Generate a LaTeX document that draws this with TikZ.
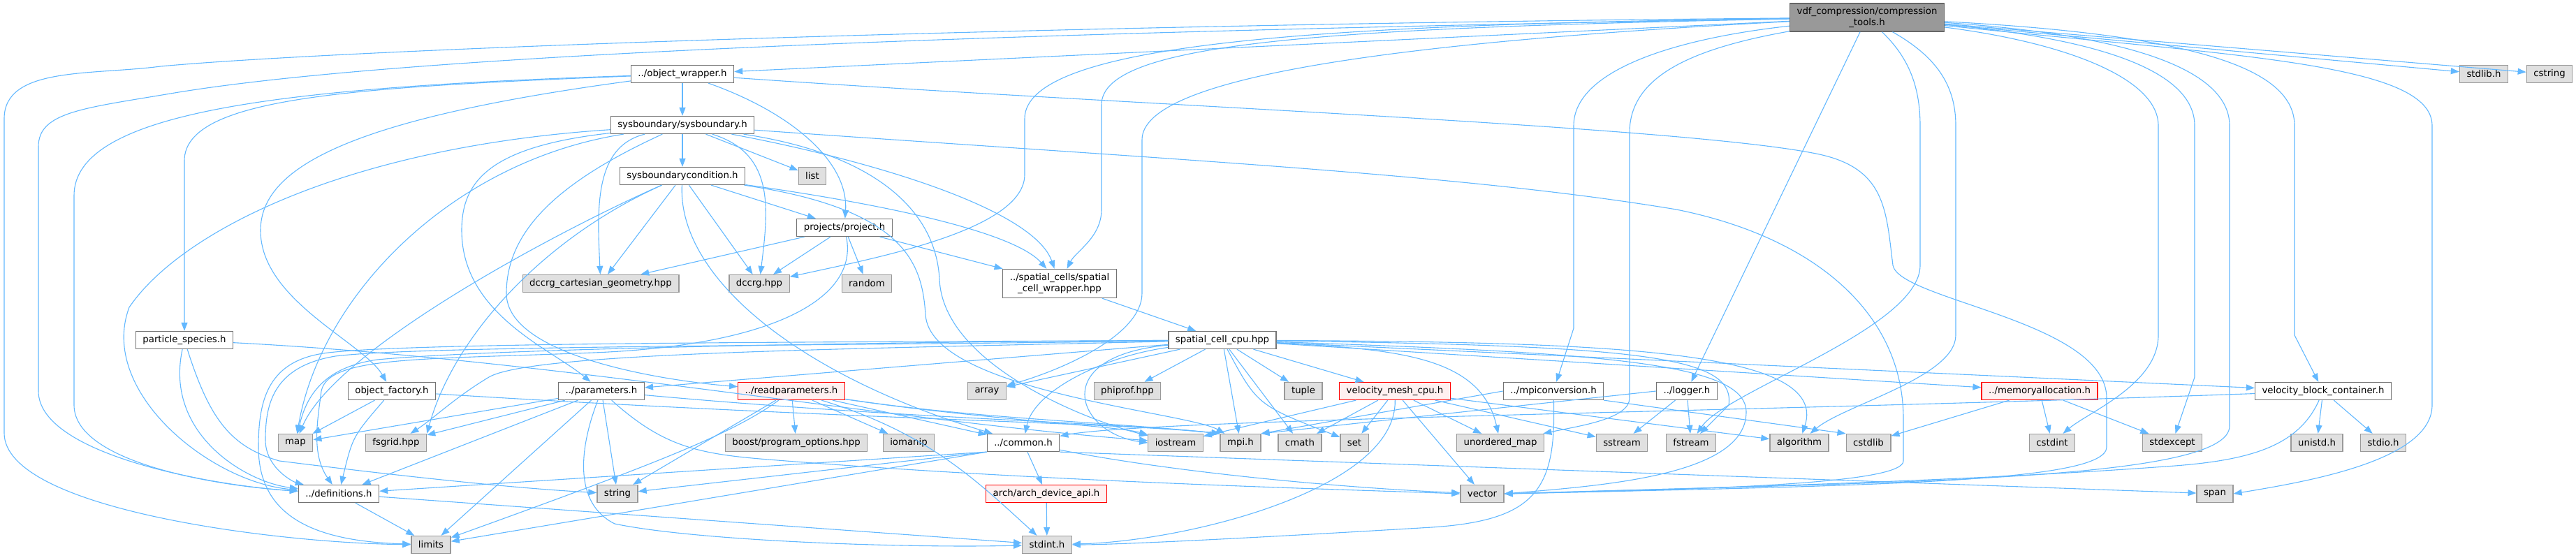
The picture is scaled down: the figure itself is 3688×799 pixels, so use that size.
\documentclass[tikz,border=0pt]{standalone}
\usepackage{fontspec}
\setmainfont{DejaVu Sans}
\usetikzlibrary{arrows.meta}
\definecolor{edgeblue}{HTML}{63B8FF}

\begin{document}
\begin{tikzpicture}[x=1pt,y=-1pt,
    file/.style={draw=black!55, fill=white, line width=1.3pt, minimum height=25pt,
      inner xsep=10pt, inner ysep=2pt, font=\fontsize{13.3}{15.5}\selectfont},
    sys/.style={file, draw=black!40, fill=black!12},
    bad/.style={file, draw=red, fill=red!6},
    top/.style={file, draw=black!60, fill=black!40, align=center, minimum height=40pt},
    inc/.style={draw=edgeblue, line width=1.1pt, -{Triangle[length=12pt,width=9pt]}}]
  \useasboundingbox (0,0) rectangle (3688,799);

  % headers of the project
  \node[top] (main) at (2673,25) {vdf\_compression/compression\\\_tools.h};
  \node[file] (ow) at (977,106) {../object\_wrapper.h};
  \node[file] (sb) at (977,179) {sysboundary/sysboundary.h};
  \node[file] (sbc) at (977,252) {sysboundarycondition.h};
  \node[file] (proj) at (1209,326) {projects/project.h};
  \node[file, align=center, minimum height=41pt] (scw) at (1517,406) {../spatial\_cells/spatial\\\_cell\_wrapper.hpp};
  \node[file] (species) at (264,487) {particle\_species.h};
  \node[file] (scc) at (1750,487) {spatial\_cell\_cpu.hpp};
  \node[file] (ofac) at (561,560) {object\_factory.h};
  \node[file] (par) at (861,560) {../parameters.h};
  \node[bad] (rpar) at (1133,560) {../readparameters.h};
  \node[bad] (vmesh) at (1997,560) {velocity\_mesh\_cpu.h};
  \node[file] (mpic) at (2224,560) {../mpiconversion.h};
  \node[file] (logger) at (2415,560) {../logger.h};
  \node[bad] (memalloc) at (2920,560) {../memoryallocation.h};
  \node[file] (vbc) at (3326,560) {velocity\_block\_container.h};
  \node[file] (common) at (1465,634) {../common.h};
  \node[file] (defs) at (485,707) {../definitions.h};
  \node[bad] (arch) at (1498,707) {arch/arch\_device\_api.h};

  % system and library headers
  \node[sys] (stdlib) at (3556,106) {stdlib.h};
  \node[sys] (cstring) at (3650,106) {cstring};
  \node[sys] (list) at (1163,252) {list};
  \node[sys] (dcg) at (860,406) {dccrg\_cartesian\_geometry.hpp};
  \node[sys] (dccrg) at (1087,406) {dccrg.hpp};
  \node[sys] (rand) at (1241,406) {random};
  \node[sys] (array) at (1413,560) {array};
  \node[sys] (phiprof) at (1614,560) {phiprof.hpp};
  \node[sys] (tuple) at (1866,560) {tuple};
  \node[sys] (map) at (423,634) {map};
  \node[sys] (fsgrid) at (567,634) {fsgrid.hpp};
  \node[sys] (boost) at (1140,634) {boost/program\_options.hpp};
  \node[sys] (iomanip) at (1301,634) {iomanip};
  \node[sys] (iostream) at (1683,634) {iostream};
  \node[sys] (mpi) at (1776,634) {mpi.h};
  \node[sys] (cmath) at (1861,634) {cmath};
  \node[sys] (set) at (1939,634) {set};
  \node[sys] (umap) at (2148,634) {unordered\_map};
  \node[sys] (sstream) at (2322,634) {sstream};
  \node[sys] (fstream) at (2421,634) {fstream};
  \node[sys] (algorithm) at (2576,634) {algorithm};
  \node[sys] (cstdlib) at (2675,634) {cstdlib};
  \node[sys] (cstdint) at (2938,634) {cstdint};
  \node[sys] (stdexcept) at (3110,634) {stdexcept};
  \node[sys] (unistd) at (3317,634) {unistd.h};
  \node[sys] (stdio) at (3412,634) {stdio.h};
  \node[sys] (string) at (884,707) {string};
  \node[sys] (vector) at (2122,707) {vector};
  \node[sys] (span) at (3171,707) {span};
  \node[sys] (limits) at (617,780) {limits};
  \node[sys] (stdint) at (1499,780) {stdint.h};

  % compression_tools.h
  \draw[inc] (main) -- (ow);
  \draw[inc] (main) .. controls (1500,45) and (600,75) .. (250,133) .. controls (120,155) and (55,160) .. (55,210) -- (55,560) .. controls (55,650) and (300,695) .. (defs);
  \draw[inc] (main) .. controls (1500,35) and (500,70) .. (230,95) .. controls (130,108) and (6,95) .. (6,170) -- (6,620) .. controls (6,730) and (400,778) .. (limits);
  \draw[inc] (main) .. controls (1900,35) and (1467,60) .. (1467,170) -- (1467,250) .. controls (1467,330) and (1250,370) .. (dccrg);
  \draw[inc] (main) .. controls (1900,40) and (1577,60) .. (1577,150) -- (1577,300) .. controls (1577,340) and (1540,360) .. (scw);
  \draw[inc] (main) .. controls (2000,60) and (1635,110) .. (1635,200) -- (1635,420) .. controls (1635,480) and (1520,530) .. (array);
  \draw[inc] (main) .. controls (2400,55) and (2253,100) .. (2253,180) -- (2253,470) -- (mpic);
  \draw[inc] (main) .. controls (2420,70) and (2333,110) .. (2333,190) -- (2333,570) .. controls (2333,600) and (2260,610) .. (umap);
  \draw[inc] (main) -- (logger);
  \draw[inc] (main) .. controls (2730,80) and (2749,120) .. (2749,180) -- (2749,380) .. controls (2749,470) and (2470,560) .. (fstream);
  \draw[inc] (main) .. controls (2770,80) and (2800,120) .. (2800,180) -- (2800,480) .. controls (2800,540) and (2640,580) .. (algorithm);
  \draw[inc] (main) .. controls (2950,60) and (3090,110) .. (3090,180) -- (3090,480) .. controls (3090,550) and (2990,590) .. (cstdint);
  \draw[inc] (main) .. controls (3000,55) and (3142,100) .. (3142,180) -- (3142,540) -- (stdexcept);
  \draw[inc] (main) .. controls (3050,50) and (3192,100) .. (3192,180) -- (3192,610) .. controls (3192,690) and (2700,690) .. (vector.east);
  \draw[inc] (main) .. controls (3150,50) and (3285,100) .. (3285,180) -- (3285,480) -- (vbc);
  \draw[inc] (main) .. controls (3200,80) and (3482,90) .. (3482,180) -- (3482,580) .. controls (3482,660) and (3300,690) .. (span.east);
  \draw[inc] (main) -- (stdlib);
  \draw[inc] (main) -- (cstring);

  % object_wrapper.h
  \draw[inc] (ow) -- (sb);
  \draw[inc] (ow) .. controls (1130,160) and (1215,230) .. (proj);
  \draw[inc] (ow) .. controls (500,125) and (264,140) .. (264,230) -- (species);
  \draw[inc] (ow) .. controls (400,125) and (106,160) .. (106,280) -- (106,580) .. controls (106,660) and (300,695) .. (defs);
  \draw[inc] (ow) .. controls (500,170) and (373,240) .. (373,330) .. controls (373,430) and (520,490) .. (ofac);
  \draw[inc] (ow) .. controls (1600,150) and (2400,180) .. (2600,220) .. controls (2700,240) and (2700,300) .. (2710,380) .. controls (2720,430) and (3016,460) .. (3016,570) -- (3016,640) .. controls (3016,690) and (2700,695) .. (vector.east);

  % sysboundary.h
  \draw[inc] (sb) -- (sbc);
  \draw[inc] (sb) -- (list);
  \draw[inc] (sb) .. controls (850,210) and (855,300) .. (dcg);
  \draw[inc] (sb) .. controls (1110,220) and (1100,300) .. (dccrg);
  \draw[inc] (sb) .. controls (1250,230) and (1480,300) .. (scw);
  \draw[inc] (sb) .. controls (700,210) and (661,260) .. (661,330) .. controls (661,450) and (790,500) .. (par);
  \draw[inc] (sb) .. controls (800,260) and (725,330) .. (725,420) .. controls (725,510) and (950,545) .. (rpar);
  \draw[inc] (sb) .. controls (500,210) and (260,330) .. (185,440) .. controls (140,560) and (300,690) .. (defs);
  \draw[inc] (sb) .. controls (650,230) and (460,420) .. (map);
  \draw[inc] (sb) .. controls (1700,230) and (2100,250) .. (2400,300) .. controls (2600,340) and (2725,450) .. (2725,600) -- (2725,660) .. controls (2725,690) and (2500,700) .. (vector.east);
  \draw[inc] (sb) .. controls (1250,220) and (1340,300) .. (1345,400) .. controls (1350,520) and (1550,600) .. (iostream);

  % sysboundarycondition.h
  \draw[inc] (sbc) -- (dcg);
  \draw[inc] (sbc) -- (dccrg);
  \draw[inc] (sbc) -- (proj);
  \draw[inc] (sbc) .. controls (1250,290) and (1450,330) .. (scw);
  \draw[inc] (sbc) .. controls (800,330) and (480,500) .. (map);
  \draw[inc] (sbc) .. controls (780,340) and (650,480) .. (fsgrid.north east);
  \draw[inc] (sbc) .. controls (970,400) and (1150,540) .. (common);
  \draw[inc] (sbc) .. controls (1300,300) and (1320,380) .. (1325,450) .. controls (1330,560) and (1700,590) .. (mpi);

  % project.h
  \draw[inc] (proj) -- (dcg);
  \draw[inc] (proj) -- (dccrg);
  \draw[inc] (proj) -- (rand);
  \draw[inc] (proj) -- (scw);
  \draw[inc] (proj) .. controls (1230,430) and (1100,495) .. (850,505) .. controls (600,515) and (470,510) .. (460,560) .. controls (455,600) and (445,650) .. (defs);

  \draw[inc] (scw) -- (scc);

  % particle_species.h, object_factory.h
  \draw[inc] (species) .. controls (235,620) and (350,690) .. (defs);
  \draw[inc] (species) .. controls (300,600) and (330,640) .. (400,660) .. controls (600,685) and (750,700) .. (string);
  \draw[inc] (species) .. controls (800,515) and (1250,600) .. (iostream);
  \draw[inc] (ofac) -- (map);
  \draw[inc] (ofac) .. controls (505,625) .. (defs);
  \draw[inc] (ofac) .. controls (1200,600) and (1600,605) .. (mpi.north west);

  % parameters.h
  \draw[inc] (par) -- (map);
  \draw[inc] (par) -- (fsgrid);
  \draw[inc] (par) -- (defs);
  \draw[inc] (par) -- (limits);
  \draw[inc] (par) -- (string);
  \draw[inc] (par) .. controls (830,640) and (820,720) .. (880,750) .. controls (1000,775) and (1300,785) .. (stdint);
  \draw[inc] (par) .. controls (950,640) and (1000,650) .. (1100,658) .. controls (1500,690) and (1900,700) .. (vector.west);
  \draw[inc] (par) .. controls (1300,600) and (1600,605) .. (mpi.north west);

  % readparameters.h
  \draw[inc] (rpar) -- (string);
  \draw[inc] (rpar) .. controls (1050,620) and (950,660) .. (limits);
  \draw[inc] (rpar) -- (boost);
  \draw[inc] (rpar) -- (iomanip);
  \draw[inc] (rpar) .. controls (1330,620) and (1400,690) .. (stdint);
  \draw[inc] (rpar) .. controls (1400,600) and (1600,610) .. (iostream);
  \draw[inc] (rpar) .. controls (1400,600) and (1600,605) .. (mpi.north west);
  \draw[inc] (rpar) -- (common);

  % spatial_cell_cpu.hpp
  \draw[inc] (scc) -- (par);
  \draw[inc] (scc) .. controls (1200,490) and (700,500) .. (540,515) .. controls (470,525) and (440,560) .. (map);
  \draw[inc] (scc) .. controls (1200,500) and (760,505) .. (700,540) .. controls (650,570) and (620,600) .. (fsgrid);
  \draw[inc] (scc) .. controls (1200,495) and (600,495) .. (480,510) .. controls (390,525) and (380,580) .. (380,630) .. controls (380,670) and (420,690) .. (defs);
  \draw[inc] (scc) .. controls (1200,490) and (600,490) .. (470,505) .. controls (385,515) and (370,570) .. (370,640) .. controls (370,740) and (450,775) .. (limits);
  \draw[inc] (scc) -- (array);
  \draw[inc] (scc) -- (phiprof);
  \draw[inc] (scc) -- (tuple);
  \draw[inc] (scc) -- (vmesh);
  \draw[inc] (scc) .. controls (1580,510) and (1480,560) .. (common);
  \draw[inc] (scc) .. controls (1500,510) and (1540,620) .. (iostream.west);
  \draw[inc] (scc) -- (mpi);
  \draw[inc] (scc) -- (cmath);
  \draw[inc] (scc) .. controls (1800,580) .. (set);
  \draw[inc] (scc) .. controls (2000,500) and (2120,510) .. (umap);
  \draw[inc] (scc) .. controls (2300,490) and (2620,500) .. (algorithm);
  \draw[inc] (scc) .. controls (2350,495) and (2485,510) .. (2475,580) -- (fstream);
  \draw[inc] (scc) -- (memalloc);
  \draw[inc] (scc) -- (vbc);
  \draw[inc] (scc) .. controls (2300,505) and (2500,520) .. (2500,590) .. controls (2500,680) and (2300,695) .. (vector.east);

  % velocity_mesh_cpu.h
  \draw[inc] (vmesh) -- (iostream);
  \draw[inc] (vmesh) -- (cmath);
  \draw[inc] (vmesh) -- (set);
  \draw[inc] (vmesh) -- (umap);
  \draw[inc] (vmesh) -- (sstream);
  \draw[inc] (vmesh) -- (vector);
  \draw[inc] (vmesh) .. controls (2000,700) and (1700,775) .. (stdint);
  \draw[inc] (vmesh) -- (algorithm);

  % mpiconversion.h, logger.h, memoryallocation.h
  \draw[inc] (mpic.west) -- (mpi.north east);
  \draw[inc] (mpic) .. controls (2228,700) and (2200,745) .. (2050,755) .. controls (1800,770) and (1600,780) .. (stdint);
  \draw[inc] (mpic.south east) -- (cstdlib.north west);
  \draw[inc] (logger.west) -- (mpi.north east);
  \draw[inc] (logger) -- (sstream);
  \draw[inc] (logger) -- (fstream);
  \draw[inc] (memalloc) -- (cstdlib);
  \draw[inc] (memalloc) -- (cstdint);
  \draw[inc] (memalloc) -- (stdexcept);

  % velocity_block_container.h
  \draw[inc] (vbc) .. controls (2500,590) and (1650,600) .. (common);
  \draw[inc] (vbc) .. controls (3290,640) and (3220,660) .. (3100,668) .. controls (2800,690) and (2400,700) .. (vector.east);
  \draw[inc] (vbc) -- (unistd);
  \draw[inc] (vbc) -- (stdio);

  % common.h, arch, definitions.h
  \draw[inc] (common.south west) -- (defs);
  \draw[inc] (common.south west) -- (string);
  \draw[inc] (common.south west) -- (limits);
  \draw[inc] (common) -- (arch);
  \draw[inc] (common) .. controls (1700,680) and (1950,700) .. (vector);
  \draw[inc] (common.south east) -- (span);
  \draw[inc] (arch) -- (stdint);
  \draw[inc] (defs) -- (limits);
  \draw[inc] (defs) -- (stdint);
\end{tikzpicture}
\end{document}
